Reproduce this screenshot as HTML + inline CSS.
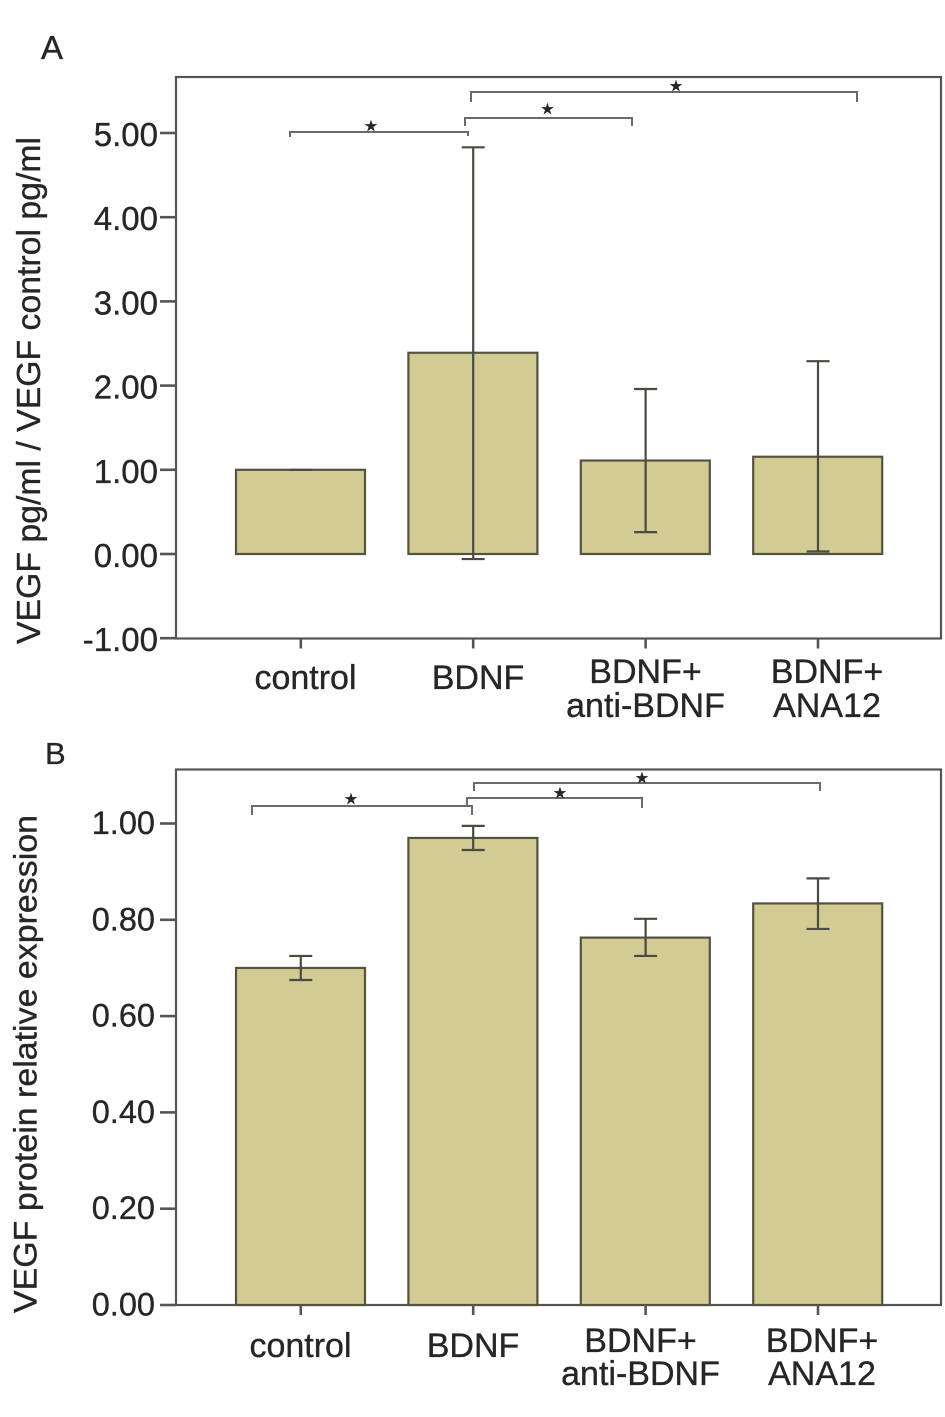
<!DOCTYPE html>
<html lang="en">
<head>
<meta charset="utf-8">
<title>VEGF bar charts</title>
<style>
html,body{margin:0;padding:0;background:#fff;width:945px;height:1417px;overflow:hidden}
svg{display:block}
text{font-family:"Liberation Sans",sans-serif;fill:#262626;stroke:#262626;stroke-width:0.35px}
</style>
</head>
<body>
<svg id="figure" xmlns="http://www.w3.org/2000/svg" width="945" height="1417" viewBox="0 0 945 1417">
  <rect x="0" y="0" width="945" height="1417" fill="#fff"/>
  <text x="41" y="59" font-size="33">A</text>
  <text x="45" y="764" font-size="31">B</text>

  <g fill="none" stroke="#6a6a6a" stroke-width="2">
    <path d="M290 137V132H468V136"/>
    <path d="M465 126V118H632V126"/>
    <path d="M471 102V92H857V102"/>
  </g>
  <g fill="none" stroke="#6a6a6a" stroke-width="2">
    <path d="M252 815V806H472V815"/>
    <path d="M467 806V798H642V808"/>
    <path d="M474 791V783H820V791"/>
  </g>
  <g font-size="15" text-anchor="middle">
    <text x="371" y="131" style="font-family:'DejaVu Sans',sans-serif">★</text>
    <text x="547.5" y="114" style="font-family:'DejaVu Sans',sans-serif">★</text>
    <text x="676" y="91" style="font-family:'DejaVu Sans',sans-serif">★</text>
    <text x="351" y="804" style="font-family:'DejaVu Sans',sans-serif">★</text>
    <text x="560" y="798" style="font-family:'DejaVu Sans',sans-serif">★</text>
    <text x="642" y="783" style="font-family:'DejaVu Sans',sans-serif">★</text>
  </g>
</svg>
<script>
var categories = ["control", "BDNF", "BDNF+ anti-BDNF", "BDNF+ ANA12"];

var meansA = [1.00, 2.39, 1.11, 1.155];
var errHighA = [1.00, 4.83, 1.96, 2.29];
var errLowA = [1.00, -0.06, 0.26, 0.03];
var tickValuesA = [-1, 0, 1, 2, 3, 4, 5];
var tickLabelsA = ["-1.00", "0.00", "1.00", "2.00", "3.00", "4.00", "5.00"];

var meansB = [0.70, 0.97, 0.763, 0.834];
var errHighB = [0.725, 0.995, 0.802, 0.886];
var errLowB = [0.675, 0.945, 0.725, 0.781];
var tickValuesB = [0, 0.2, 0.4, 0.6, 0.8, 1.0];
var tickLabelsB = ["0.00", "0.20", "0.40", "0.60", "0.80", "1.00"];

var NS = "http://www.w3.org/2000/svg";
var svg = document.getElementById("figure");
var LINE = "#555";

function xCenter(i) { return 300.5 + i * 172.4; }
function yA(v) { return 554 - v * 84.2; }
function yB(v) { return 1305 - v * 481.5; }

function make(tag, attrs, parent) {
  var el = document.createElementNS(NS, tag);
  for (var k in attrs) el.setAttribute(k, attrs[k]);
  (parent || svg).appendChild(el);
  return el;
}

function drawPanel(p) {
  var g = make("g", {});
  
  

  var frame = make("rect", {x: 176, y: p.top, width: 765, height: p.bottom - p.top, fill: "none", stroke: LINE, "stroke-width": 2.2}, g);
  
  

  p.tickValues.forEach(function (v, i) {
    var y = p.y(v);
    var t = make("line", {x1: 160, x2: 176, y1: y, y2: y, stroke: LINE, "stroke-width": 2.6}, g);
    
    
    var lab = make("text", {x: p.tickRight, y: y + p.tickBase, "font-size": p.tickSize, "text-anchor": "end"}, g);
    
    
    lab.textContent = p.tickLabels[i];
  });

  p.means.forEach(function (m, i) {
    var cx = xCenter(i);
    var bar = make("rect", {x: cx - 64.5, y: p.y(m), width: 129, height: p.y(0) - p.y(m), fill: "#d2cb93", stroke: "#55533f", "stroke-width": 2.2}, g);
    
    
  });

  p.means.forEach(function (m, i) {
    var cx = xCenter(i) + 0.3;
    var hi = p.y(p.errHigh[i]), lo = p.y(p.errLow[i]);
    var d = "M" + (cx - 11.5) + " " + hi + "H" + (cx + 11.5) + "M" + cx + " " + hi + "V" + lo + "M" + (cx - 11.5) + " " + lo + "H" + (cx + 11.5);
    var e = make("path", {d: d, fill: "none", stroke: "#4a4a40", "stroke-width": 2.2}, g);
    
    

    var xt = make("line", {x1: cx, x2: cx, y1: p.bottom, y2: p.bottom + 10, stroke: LINE, "stroke-width": 2.6}, g);
    
    
  });

  categories.forEach(function (c, i) {
    var parts = c.split(" ");
    var spec = p.labels[i];
    parts.forEach(function (line, j) {
      var t = make("text", {x: spec[0], y: parts.length > 1 ? p.twoLine[j] : p.oneLine, "font-size": p.labelSize, "text-anchor": "middle"}, g);
      
      
      t.textContent = line;
    });
  });

  var title = make("text", {
    transform: "translate(" + p.titleX + " " + p.titleY + ") rotate(-90)",
    "font-size": p.titleSize, textLength: p.titleLen, lengthAdjust: "spacingAndGlyphs"
  }, g);
  
  
  title.textContent = p.title;
}

drawPanel({
  id: "a", top: 77, bottom: 638.5, y: yA,
  means: meansA, errHigh: errHighA, errLow: errLowA,
  tickValues: tickValuesA, tickLabels: tickLabelsA,
  tickRight: 158, tickBase: 13, tickSize: 33,
  labels: [[305.5], [478], [645.5], [827]],
  oneLine: 689, twoLine: [683, 717], labelSize: 34,
  title: "VEGF pg/ml / VEGF control pg/ml",
  titleX: 40, titleY: 644, titleSize: 33, titleLen: 507
});

drawPanel({
  id: "b", top: 769.5, bottom: 1305, y: yB,
  means: meansB, errHigh: errHighB, errLow: errLowB,
  tickValues: tickValuesB, tickLabels: tickLabelsB,
  tickRight: 155, tickBase: 10.5, tickSize: 32.5,
  labels: [[300.5], [473], [640.5], [822]],
  oneLine: 1357, twoLine: [1352, 1385], labelSize: 34,
  title: "VEGF protein relative expression",
  titleX: 36.5, titleY: 1313, titleSize: 32.5, titleLen: 498
});
</script>
</body>
</html>
